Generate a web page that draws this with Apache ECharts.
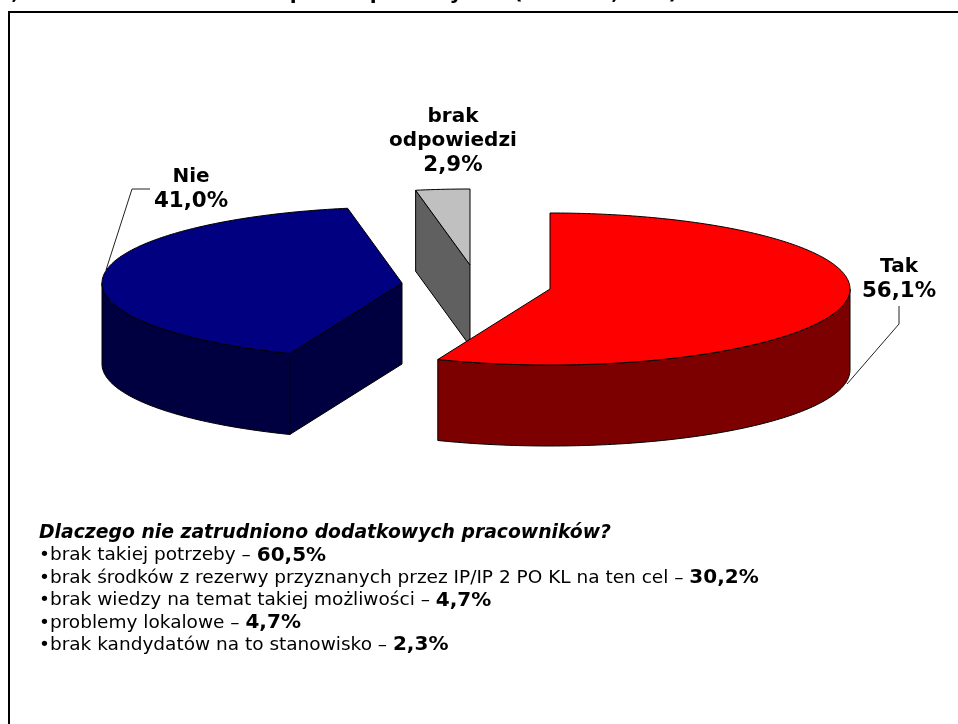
<!DOCTYPE html>
<html><head><meta charset="utf-8">
<style>html,body{margin:0;padding:0;background:#fff}#c{width:958px;height:724px}</style>
<script src="https://cdn.jsdelivr.net/npm/echarts@6/dist/echarts.min.js"></script>
</head><body><div id="c"></div>
<script>
// ---- data ----
const categories = ['Tak', 'Nie', 'brak\nodpowiedzi'];
const values = [56.1, 41.0, 2.9];
const valueLabels = ['56,1%', '41,0%', '2,9%'];
const heading = 'Dlaczego nie zatrudniono dodatkowych pracowników?';
const reasons = [
  'brak takiej potrzeby',
  'brak środków z rezerwy przyznanych przez IP/IP 2 PO KL na ten cel',
  'brak wiedzy na temat takiej możliwości',
  'problemy lokalowe',
  'brak kandydatów na to stanowisko'
];
const reasonValues = ['60,5%', '30,2%', '4,7%', '4,7%', '2,3%'];
const clippedTitleGlyphs = [',', 'p', 'p', 'y', '(', ',', ')'];

// ---- layout / style ----
const FONT = '"DejaVu Sans", Verdana, sans-serif';
const RX = 300, RY = 76, DEPTH = 81;
const sliceStyle = [
  {cx: 550, cy: 289, top: '#ff0000', side: '#7c0000', z: 30, labelX: 899, labelY: 279,
   leader: [[899, 306], [899, 324], [847, 384]]},
  {cx: 402, cy: 283, top: '#000080', side: '#000040', z: 20, labelX: 191, labelY: 189,
   leader: [[150, 189], [132, 189], [106, 270]]},
  {cx: 470, cy: 265, top: '#c0c0c0', side: '#606060', z: 10, labelX: 453, labelY: 141,
   leader: null}
];
const titleX = [15, 297, 377, 456, 518, 615, 673];
const LINE = 22.45, TEXT_X = 39, TEXT_Y = 533;
const LABEL_SIZE = 20, VALUE_SIZE = 21.4, BODY_SIZE = 18.5, BODY_BOLD_SIZE = 20, HEAD_SIZE = 18.8;

// ---- helpers ----
const total = values.reduce((a, b) => a + b, 0);
const starts = [];
values.reduce((acc, v, i) => { starts[i] = acc; return acc + v / total * 360; }, 0);
const rad = d => d * Math.PI / 180;
const pt = (s, a, dz) => [s.cx + RX * Math.sin(rad(a)), s.cy - RY * Math.cos(rad(a)) + (dz || 0)];
function arc(s, a0, a1, dz) {
  const out = [], n = Math.max(2, Math.ceil(Math.abs(a1 - a0)));
  for (let k = 0; k <= n; k++) out.push(pt(s, a0 + (a1 - a0) * k / n, dz));
  return out;
}
const stroke = {stroke: '#000', lineWidth: 1, lineJoin: 'round'};

function renderItem(params, api) {
  const i = api.value(0), v = api.value(1), s = sliceStyle[i];
  const a0 = starts[i], a1 = a0 + v / total * 360;
  const ch = [];
  const w0 = Math.max(a0, 90), w1 = Math.min(a1, 270);
  if (w1 > w0) {
    ch.push({type: 'polygon', z2: s.z, shape: {points: arc(s, w0, w1, 0).concat(arc(s, w1, w0, DEPTH))},
      style: Object.assign({fill: s.side}, stroke)});
  }
  const face = a => {
    const p = pt(s, a), c = [s.cx, s.cy];
    ch.push({type: 'polygon', z2: s.z + 1, shape: {points: [p, c, [c[0], c[1] + DEPTH], [p[0], p[1] + DEPTH]]},
      style: Object.assign({fill: s.side}, stroke)});
  };
  if (Math.sin(rad(a0)) < -1e-6) face(a0);
  if (Math.sin(rad(a1)) > 1e-6) face(a1);
  ch.push({type: 'polygon', z2: s.z + 2, shape: {points: [[s.cx, s.cy]].concat(arc(s, a0, a1, 0))},
    style: Object.assign({fill: s.top}, stroke)});
  if (s.leader) ch.push({type: 'polyline', z2: s.z - 1, shape: {points: s.leader},
    style: {fill: null, stroke: '#222', lineWidth: 1}});
  ch.push({type: 'text', z2: 50, style: {x: s.labelX, y: s.labelY,
    text: categories[i].split('\n').map(t => '{n|' + t + '}').join('\n') + '\n{v|' + valueLabels[i] + '}',
    align: 'center', verticalAlign: 'middle',
    rich: {
      n: {font: 'bold ' + LABEL_SIZE + 'px ' + FONT, lineHeight: 24.5, fill: '#000', align: 'center'},
      v: {font: 'bold ' + VALUE_SIZE + 'px ' + FONT, lineHeight: 24.5, fill: '#000', align: 'center'}
    }}});
  return {type: 'group', children: ch};
}

const graphics = [
  {type: 'line', z: 1, shape: {x1: 9, y1: 12, x2: 958, y2: 12}, style: {stroke: '#000', lineWidth: 2}},
  {type: 'line', z: 1, shape: {x1: 9, y1: 11, x2: 9, y2: 724}, style: {stroke: '#000', lineWidth: 2}},
  {type: 'text', z: 5, style: {x: TEXT_X, y: TEXT_Y, text: heading, verticalAlign: 'middle',
    font: 'italic bold ' + HEAD_SIZE + 'px ' + FONT, fill: '#000'}}
];
reasons.forEach((r, i) => graphics.push({type: 'text', z: 5, style: {
  x: TEXT_X, y: TEXT_Y + LINE * (i + 1), verticalAlign: 'middle',
  text: '{n|•' + r + ' – }{b|' + reasonValues[i] + '}',
  rich: {n: {font: BODY_SIZE + 'px ' + FONT, fill: '#000'}, b: {font: 'bold ' + BODY_BOLD_SIZE + 'px ' + FONT, fill: '#000'}}
}}));
clippedTitleGlyphs.forEach((g, i) => graphics.push({type: 'text', z: 5, style: {
  x: titleX[i], y: 4, text: g, align: 'center', verticalAlign: 'bottom',
  font: 'bold 20px ' + FONT, fill: '#000'}}));

const chart = echarts.init(document.getElementById('c'), null, {renderer: 'canvas', width: 958, height: 724});
chart.setOption({
  animation: false,
  backgroundColor: '#fff',
  graphic: graphics,
  series: [{type: 'custom', coordinateSystem: 'none', silent: true, renderItem,
    data: values.map((v, i) => [i, v])}]
});
</script></body></html>
